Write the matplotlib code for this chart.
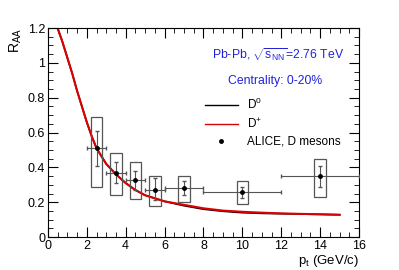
import numpy as np
import matplotlib
matplotlib.use("Agg")
from matplotlib import pyplot as plt
from matplotlib.patches import Rectangle
from matplotlib.lines import Line2D
from matplotlib.ticker import MultipleLocator

plt.rcParams['font.family'] = ['Liberation Sans', 'DejaVu Sans']
plt.rcParams['mathtext.fontset'] = 'custom'
plt.rcParams['mathtext.rm'] = 'Liberation Sans'
plt.rcParams['mathtext.it'] = 'Liberation Sans'

# model curves
curve_pt = [0.5, 0.75, 1.0, 1.25, 1.5, 1.75, 2.0, 2.25, 2.5, 3.0, 3.5, 4.0, 4.5, 5.0, 6.0, 7.0, 8.0, 9.0, 10.0, 11.0, 12.0, 13.0, 14.0, 15.0]
raa_d0 = [1.2, 1.12, 1.03, 0.94, 0.84, 0.75, 0.66, 0.58, 0.51, 0.42, 0.36, 0.31, 0.27, 0.24, 0.205, 0.18, 0.16, 0.148, 0.14, 0.136, 0.134, 0.132, 0.13, 0.128]
raa_dplus = [1.2, 1.12, 1.03, 0.94, 0.84, 0.75, 0.66, 0.58, 0.51, 0.42, 0.36, 0.31, 0.27, 0.24, 0.205, 0.185, 0.165, 0.152, 0.145, 0.14, 0.136, 0.133, 0.131, 0.128]

# ALICE data
data_pt = [2.5, 3.5, 4.5, 5.5, 7.0, 10.0, 14.0]
data_raa = [0.51, 0.37, 0.33, 0.27, 0.28, 0.26, 0.35]
pt_err = [0.5, 0.5, 0.5, 0.5, 1.0, 2.0, 2.0]
stat_lo = [0.10, 0.06, 0.06, 0.06, 0.04, 0.035, 0.06]
stat_hi = [0.10, 0.06, 0.05, 0.07, 0.04, 0.03, 0.06]
syst_lo = [0.22, 0.13, 0.11, 0.09, 0.08, 0.07, 0.12]
syst_hi = [0.18, 0.11, 0.10, 0.08, 0.07, 0.06, 0.10]

fig = plt.figure(figsize=(3.99, 2.70), dpi=100)
ax = fig.add_axes([0.12, 0.122, 0.78, 0.774])

ax.plot(curve_pt, raa_d0, color='black', lw=1.2)
ax.plot(curve_pt, raa_dplus, color='#dd0000', lw=1.5)

for x, y, lo, hi in zip(data_pt, data_raa, syst_lo, syst_hi):
    ax.add_patch(Rectangle((x - 0.3, y - lo), 0.6, lo + hi, fill=False,
                           edgecolor='#555555', lw=0.9, zorder=3))

ax.errorbar(data_pt, data_raa, xerr=pt_err, yerr=[stat_lo, stat_hi], fmt='o',
            color='black', ecolor='#555555', elinewidth=0.8, capsize=1.5,
            markersize=2.5, zorder=4)

ax.set_xlim(0, 16)
ax.set_ylim(0, 1.2)
ax.xaxis.set_major_locator(MultipleLocator(2))
ax.xaxis.set_minor_locator(MultipleLocator(0.5))
ax.yaxis.set_major_locator(MultipleLocator(0.2))
ax.yaxis.set_minor_locator(MultipleLocator(0.05))
ax.set_yticks([0, 0.2, 0.4, 0.6, 0.8, 1.0, 1.2])
ax.set_yticklabels(['0', '0.2', '0.4', '0.6', '0.8', '1', '1.2'])
ax.tick_params(which='both', direction='in', top=True, right=True, labelsize=9, pad=2)
ax.tick_params(which='major', length=7)
ax.tick_params(which='minor', length=3.5)

ax.set_xlabel(r'p$_{\rm t}$ (GeV/c)', fontsize=9.5, loc='right', labelpad=1)
ax.set_ylabel(r'R$_{\rm AA}$', fontsize=10, loc='top', labelpad=3)

ax.text(0.74, 0.875, r'Pb-Pb, $\sqrt{\rm s_{NN}}$=2.76 TeV', transform=ax.transAxes,
        color='#2222dd', fontsize=8.8, ha='center', va='center')
ax.text(0.73, 0.745, 'Centrality: 0-20%', transform=ax.transAxes,
        color='#2222dd', fontsize=8.8, ha='center', va='center')

handles = [Line2D([], [], color='black', lw=1.0),
           Line2D([], [], color='#dd0000', lw=1.0),
           Line2D([], [], color='black', ls='none', marker='o', markersize=2.5)]
labels = [r'D$^{0}$', r'D$^{+}$', 'ALICE, D mesons']
ax.legend(handles, labels, loc='upper left', bbox_to_anchor=(0.47, 0.72), frameon=False,
          fontsize=8.5, handlelength=2.8, labelspacing=0.4, handletextpad=0.8)

fig.savefig('out.png', dpi=100)
